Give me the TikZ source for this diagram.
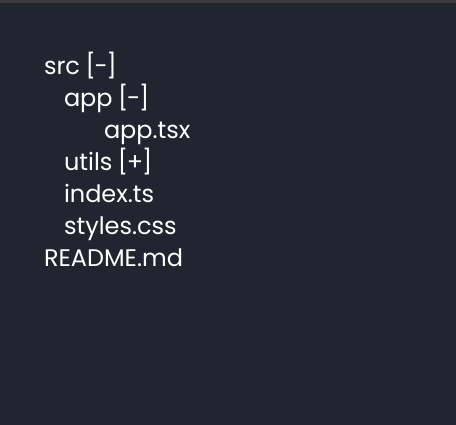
\documentclass[tikz,border=0pt]{standalone}
\usepackage{fontspec}
\setmainfont{Poppins}
\usetikzlibrary{positioning}
\definecolor{panelbg}{HTML}{21252F}
\definecolor{panelbar}{HTML}{3B3B3B}
\newcommand{\toggle}[1]{\hspace{5.5pt}[\kern-1.2pt#1\kern-1.2pt]}
\tikzset{every node/.style={inner sep=0pt, outer sep=0pt},
         entry/.style={ % Sets the properties for each tree line
           anchor=base west,
           text=white,
           font=\fontsize{24}{24}\selectfont}}
\begin{document}
\begin{tikzpicture}[x=1pt,y=1pt]
  \fill[panelbg] (0,0) rectangle (456,-425);
  \fill[panelbar] (0,0) rectangle (456,-3);
  \useasboundingbox (0,0) rectangle (456,-425);

  \node [entry] (src) at (44,-75) {src\toggle{-}};
  \node [entry] (app) at (64,-107) {app\toggle{-}};
  \node [entry] (apptsx) at (104,-139) {app.tsx};
  \node [entry] (utils) at (64,-171) {utils\toggle{+}};
  \node [entry] (index) at (64,-203) {index.ts};
  \node [entry] (styles) at (64,-235) {styles.css};
  \node [entry] (readme) at (44,-267) {README.md};
\end{tikzpicture}
\end{document}
